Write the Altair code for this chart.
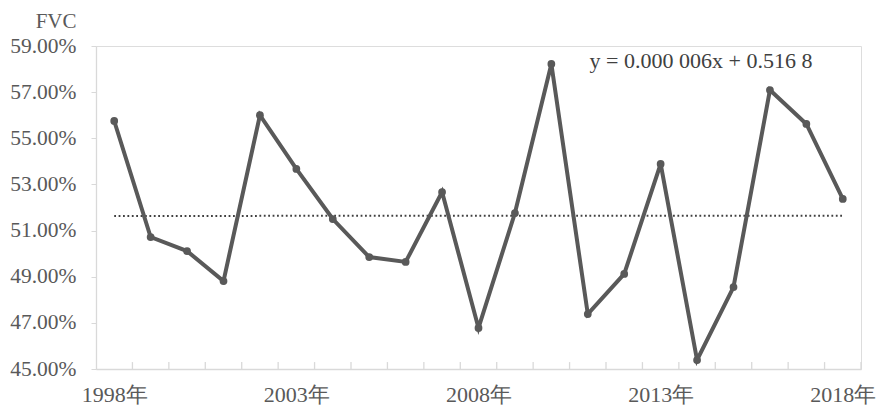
import altair as alt
import pandas as pd

years = list(range(1998, 2019))
fvc = [0.5575, 0.5072, 0.5011, 0.4881, 0.5600, 0.5367, 0.5150, 0.4985, 0.4964,
       0.5267, 0.4678, 0.5176, 0.5822, 0.4738, 0.4912, 0.5389, 0.4539, 0.4855,
       0.5709, 0.5562, 0.5237]
trend_years = [1998, 2018]
trend_vals = [0.51635, 0.51645]
tick_bounds = [y + 0.5 for y in range(1998, 2019)]
label_years = [1998, 2003, 2008, 2013, 2018]
y_ticks = [0.45, 0.47, 0.49, 0.51, 0.53, 0.55, 0.57, 0.59]
equation = "y = 0.000 006x + 0.516 8"

FONT = "Liberation Serif"
GRAY = "#595959"
AXIS = "#d9d9d9"

df = pd.DataFrame({"year": years, "fvc": fvc})
tdf = pd.DataFrame({"year": trend_years, "fvc": trend_vals})
kdf = pd.DataFrame({"year": tick_bounds, "y0": [0.45] * len(tick_bounds),
                    "y1": [0.453] * len(tick_bounds)})
adf = pd.DataFrame({"year": [2011.05], "fvc": [0.5805], "txt": [equation]})

xscale = alt.Scale(domain=[1997.5, 2018.5], nice=False, zero=False)
yscale = alt.Scale(domain=[0.45, 0.59], nice=False, zero=False)

xaxis = alt.Axis(values=label_years, labelExpr="datum.value + '年'", ticks=False,
                 grid=False, domainColor=AXIS, domainWidth=1.3, labelFont=FONT,
                 labelFontSize=22, labelColor=GRAY, labelPadding=15, title=None,
                 labelFlush=False)
yaxis = alt.Axis(values=y_ticks, format=".2%", grid=False, domainColor=AXIS,
                 domainWidth=1.3, tickColor=AXIS, tickSize=5, labelFont=FONT,
                 labelFontSize=21.5, labelColor=GRAY, labelPadding=15,
                 title="FVC", titleAngle=0, titleAlign="right",
                 titleBaseline="alphabetic", titleX=-20, titleY=-19,
                 titleFont=FONT, titleFontSize=21, titleFontWeight="normal",
                 titleColor=GRAY)

base_x = alt.X("year:Q", scale=xscale, axis=xaxis)
base_y = alt.Y("fvc:Q", scale=yscale, axis=yaxis)

line = alt.Chart(df).mark_line(color=GRAY, strokeWidth=4).encode(x=base_x, y=base_y)
pts = alt.Chart(df).mark_point(filled=True, color=GRAY, size=60, opacity=1).encode(
    x=alt.X("year:Q", scale=xscale), y=alt.Y("fvc:Q", scale=yscale))
trend = alt.Chart(tdf).mark_line(color="#404040", strokeWidth=2,
                                 strokeDash=[1.8, 2.6]).encode(
    x=alt.X("year:Q", scale=xscale), y=alt.Y("fvc:Q", scale=yscale))
ticks = alt.Chart(kdf).mark_rule(color=AXIS, strokeWidth=1.3).encode(
    x=alt.X("year:Q", scale=xscale), y=alt.Y("y0:Q", scale=yscale),
    y2="y1:Q")
ann = alt.Chart(adf).mark_text(align="left", baseline="alphabetic", font=FONT,
                                fontSize=22, color="#404040").encode(
    x=alt.X("year:Q", scale=xscale), y=alt.Y("fvc:Q", scale=yscale), text="txt:N")

chart = alt.layer(ticks, trend, line, pts, ann).properties(
    width=765, height=323,
    autosize=alt.AutoSizeParams(type="none"),
    padding={"left": 88, "top": 38, "right": 17, "bottom": 36},
).configure_view(stroke=None).configure(background="white")

chart.save("out.html", embed_options={"renderer": "svg", "actions": False})
